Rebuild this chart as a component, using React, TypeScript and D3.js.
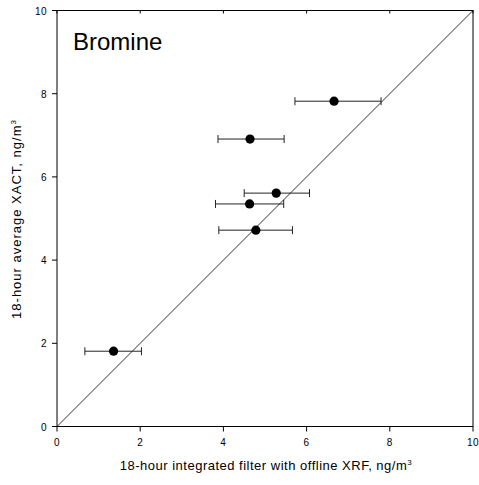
import React from "react";
import * as d3 from "d3";

const xVals = [6.66, 4.64, 5.27, 4.63, 4.78, 1.36];
const yVals = [7.82, 6.91, 5.61, 5.35, 4.72, 1.81];
const xLow = [5.72, 3.87, 4.5, 3.81, 3.89, 0.67];
const xHigh = [7.79, 5.46, 6.07, 5.45, 5.66, 2.03];
const ticks = [0, 2, 4, 6, 8, 10];
const oneToOne = [0, 10];

const W = 479;
const H = 485;
const L = 57, R = 473, T = 10.5, B = 426.5;
const font = "Arial, 'Liberation Sans', sans-serif";

export default function App() {
  const x = d3.scaleLinear().domain([0, 10]).range([L, R]);
  const y = d3.scaleLinear().domain([0, 10]).range([B, T]);
  const line = d3.line<number>().x((d) => x(d)).y((d) => y(d));
  return (
    <svg width={W} height={H} style={{ position: "absolute", left: 0, top: 0, background: "#fff" }}>
      <rect x={0} y={0} width={W} height={H} fill="#fff" />
      <path d={line(oneToOne) || ""} stroke="#333" strokeWidth={1} fill="none" />
      {xVals.map((xv, i) => (
        <g key={i}>
          <line x1={x(xLow[i])} x2={x(xHigh[i])} y1={y(yVals[i])} y2={y(yVals[i])} stroke="#222" strokeWidth={1} />
          <line x1={x(xLow[i])} x2={x(xLow[i])} y1={y(yVals[i]) - 4} y2={y(yVals[i]) + 4} stroke="#222" strokeWidth={1} />
          <line x1={x(xHigh[i])} x2={x(xHigh[i])} y1={y(yVals[i]) - 4} y2={y(yVals[i]) + 4} stroke="#222" strokeWidth={1} />
          <circle cx={x(xv)} cy={y(yVals[i])} r={4.6} fill="#000" />
        </g>
      ))}
      <rect x={L} y={T} width={R - L} height={B - T} fill="none" stroke="#000" strokeWidth={1} />
      {ticks.map((t) => (
        <g key={"t" + t}>
          <line x1={L - 5} x2={L} y1={y(t)} y2={y(t)} stroke="#000" />
          <text x={L - 10} y={y(t) + 4} fontSize={10} fontFamily={font} textAnchor="end" letterSpacing={0.5}>{t}</text>
          <line x1={x(t)} x2={x(t)} y1={B} y2={B + 5} stroke="#000" />
          <text x={x(t)} y={B + 19} fontSize={10} fontFamily={font} textAnchor="middle" letterSpacing={0.5}>{t}</text>
          <line x1={x(t)} x2={x(t)} y1={T} y2={T + 3} stroke="#000" />
        </g>
      ))}
      <text x={73} y={49.5} fontSize={24} fontFamily={font}>Bromine</text>
      <text x={266} y={470} fontSize={13} fontFamily={font} textAnchor="middle" letterSpacing={0.5}>
        18-hour integrated filter with offline XRF, ng/m<tspan dy={-5} fontSize={8}>3</tspan>
      </text>
      <text transform={`translate(21,219) rotate(-90)`} fontSize={13} fontFamily={font} textAnchor="middle" letterSpacing={1}>
        18-hour average XACT, ng/m<tspan dy={-5} fontSize={8}>3</tspan>
      </text>
    </svg>
  );
}
